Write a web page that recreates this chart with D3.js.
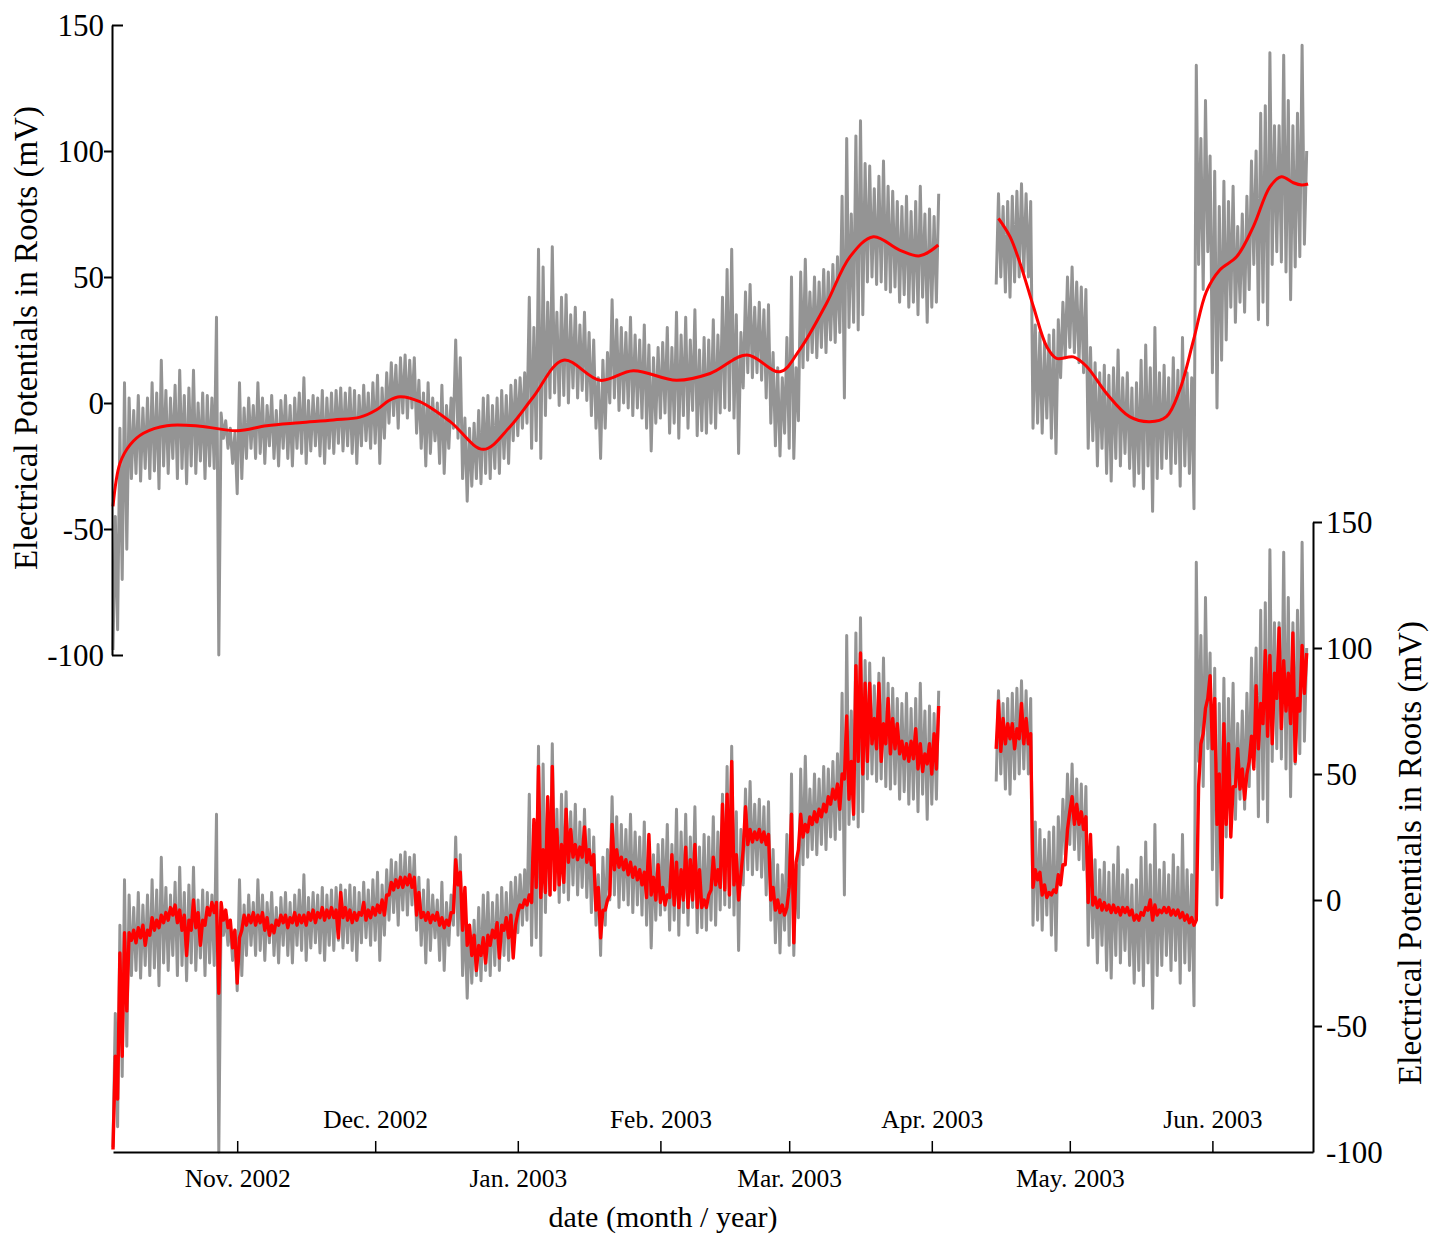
<!DOCTYPE html>
<html>
<head>
<meta charset="utf-8">
<script src="https://cdn.jsdelivr.net/npm/d3@7"></script>
<style>
  html, body { margin: 0; padding: 0; background: #fff; }
  svg text { font-family: "Liberation Serif", "Times New Roman", serif; fill: #000; }
</style>
</head>
<body>
<svg id="chart" width="1431" height="1234"></svg>
<script>
// ---------- DATA (values in mV; one [low, high] pair per day) ----------
// Day 0 = 5 Oct 2002. Recording gap between 3 Apr and 14 Apr 2003.
const startDay = Date.UTC(2002, 9, 5);

const grayOct = [[-98,-45],[-90,-10],[-70,8],[-58,2],[-30,-3],[-28,3],[-31,-2],[-26,2],[-30,8],[-27,4],[-34,17],[-25,5],[-28,2],[-22,7],[-30,13],[-26,3],[-32,6],[-25,13],[-28,0],[-23,4],[-30,3],[-25,2],[-26,34],[-100,-4],[-14,-7],[-18,-10],[-24,-12]];
const grayNov = [[-36,8],[-30,-2],[-22,2],[-18,-1],[-22,8],[-20,2],[-24,-1],[-17,3],[-22,-3],[-25,1],[-18,3],[-22,-1],[-25,2],[-18,4],[-20,10],[-24,1],[-19,3],[-17,2],[-21,5],[-24,2],[-18,4],[-20,5],[-16,6],[-19,4],[-17,6],[-20,5],[-24,3],[-17,7],[-15,4],[-18,8]];
const grayDec = [[-16,11],[-24,6],[-14,12],[-8,16],[-5,15],[-10,18],[-4,19],[-6,17],[-2,18],[-12,9],[-18,4],[-25,8],[-20,2],[-15,0],[-24,7],[-28,-1],[-18,2],[-10,25],[-14,18],[-30,-6],[-39,-10],[-33,-8],[-30,-3],[-32,2],[-28,3],[-30,-1],[-26,2],[-28,5],[-22,3],[-24,7],[-15,9]];
const grayJan = [[-13,10],[-10,12],[-8,42],[-18,30],[-15,61],[-22,54],[-5,40],[2,62],[4,36],[-1,42],[3,43],[0,35],[6,38],[2,31],[5,36],[1,28],[-5,25],[-10,10],[-22,17],[-10,20],[0,41],[2,33],[-3,30],[0,28],[-2,34],[-5,27],[-2,25],[-6,31],[-10,23],[-19,18],[-8,22]];
const grayFeb = [[-6,24],[-4,30],[-12,22],[-8,36],[-14,27],[-5,34],[-10,25],[-3,37],[-13,21],[-11,26],[-12,25],[-8,33],[-10,27],[-4,42],[-2,53],[-3,61],[-6,35],[-20,28],[6,44],[12,47],[10,38],[12,40],[9,37],[2,39],[-8,20],[-17,14],[-21,10],[-12,26]];
const grayMar = [[-18,50],[-22,14],[-7,52],[14,57],[17,44],[20,50],[18,48],[22,53],[20,52],[25,55],[24,58],[28,82],[2,105],[30,75],[32,106],[29,112],[35,95],[48,94],[50,85],[47,90],[48,96],[45,86],[44,84],[46,80],[40,78],[43,82],[38,76],[40,80],[35,86],[42,75],[32,77]];
const grayAprA = [[38,74],[40,83]];
const grayAprB = [[47,83],[50,78],[44,80],[42,82],[48,84],[50,87],[52,83],[50,80],[-10,31],[-8,28],[-12,24],[-6,27],[-14,29],[-20,33],[10,40],[18,50]];
const grayMay = [[22,54],[20,48],[16,46],[12,45],[-18,22],[-15,16],[-25,12],[-18,15],[-28,11],[-31,14],[-22,21],[-25,10],[-20,12],[-26,6],[-33,8],[-28,17],[-34,23],[-25,14],[-43,30],[-30,12],[-26,15],[-22,10],[-28,18],[-24,13],[-33,26],[-25,12],[-28,10],[-42,134],[55,105],[45,120],[60,98]];
const grayJun = [[12,92],[-2,78],[17,88],[25,80],[38,86],[32,70],[40,75],[36,82],[45,96],[55,100],[33,115],[40,118],[31,139],[55,110],[60,110],[56,138],[52,120],[41,110],[54,115],[58,142],[63,100]];

const redOct = [[-99,-62],[-79,-21],[-62,-13],[-44,-13],[-16,-12],[-17,-11],[-15,-10],[-18,-12],[-14,-7],[-12,-8],[-11,-6],[-9,-5],[-8,-3],[-6,-2],[-9,-4],[-12,-6],[-22,-8],[-12,0],[-11,-5],[-18,-8],[-10,-3],[-6,-1],[-5,-1],[-37,-1],[-8,-4],[-11,-8],[-19,-12]];
const redNov = [[-33,-15],[-12,-6],[-10,-6],[-9,-5],[-10,-6],[-9,-5],[-12,-7],[-14,-10],[-13,-8],[-10,-6],[-9,-6],[-11,-7],[-9,-5],[-10,-6],[-9,-6],[-10,-5],[-8,-4],[-9,-5],[-7,-3],[-8,-4],[-7,-3],[-7,-4],[-15,3],[-7,-3],[-8,-4],[-9,-5],[-8,-5],[-6,-1],[-8,-4],[-7,-3]];
const redDec = [[-6,-2],[-5,0],[-6,2],[2,7],[4,8],[5,9],[5,9],[6,10],[5,9],[-6,3],[-7,-5],[-8,-5],[-9,-6],[-8,-5],[-10,-7],[-11,-8],[-10,-5],[-5,16],[6,11],[-12,5],[-18,-10],[-22,-14],[-28,-18],[-22,-15],[-25,-14],[-18,-12],[-15,-9],[-23,-10],[-12,-7],[-15,-6],[-23,-10]];
const redJan = [[-5,-2],[-3,0],[-2,2],[-1,32],[5,53],[1,20],[3,41],[2,53],[4,28],[6,22],[7,36],[15,28],[17,22],[16,21],[17,29],[15,20],[14,18],[-4,5],[-15,-4],[-4,0],[2,30],[12,20],[13,17],[12,16],[10,15],[9,13],[8,12],[6,11],[1,26],[2,9],[0,14]];
const redFeb = [[-1,5],[-2,2],[1,18],[-2,15],[-3,12],[0,21],[-3,16],[0,22],[-3,12],[-3,0],[-3,2],[4,17],[6,12],[5,38],[4,42],[2,55],[6,18],[0,10],[20,37],[22,28],[23,27],[24,28],[23,27],[22,26],[0,5],[-4,0],[-5,-2],[-6,-3]];
const redMar = [[5,34],[-17,15],[20,34],[25,30],[27,33],[30,35],[31,36],[33,38],[35,41],[38,44],[40,46],[36,50],[48,73],[40,55],[34,93],[55,98],[50,86],[55,86],[62,72],[60,86],[55,70],[62,80],[58,72],[60,70],[58,63],[56,62],[55,63],[56,68],[52,62],[51,58],[54,62]];
const redAprA = [[50,66],[52,77]];
const redAprB = [[60,79],[59,72],[62,70],[64,70],[60,68],[64,78],[62,72],[62,66],[5,12],[8,11],[2,6],[1,3],[2,4],[3,10],[6,14],[14,28]];
const redMay = [[35,41],[30,38],[30,35],[28,33],[-1,26],[-2,1],[-3,0],[-4,-1],[-4,-2],[-5,-2],[-5,-3],[-6,-3],[-5,-3],[-6,-4],[-8,-6],[-8,-5],[-6,-3],[-4,0],[-8,-2],[-6,-4],[-5,-3],[-5,-3],[-6,-4],[-6,-4],[-7,-5],[-8,-6],[-9,-7],[-10,-8],[45,62],[66,76],[80,89]];
const redJun = [[60,80],[30,50],[1,70],[30,62],[25,45],[45,60],[44,52],[40,50],[55,65],[52,85],[60,78],[70,99],[65,97],[62,90],[80,108],[68,95],[75,90],[70,106],[55,80],[75,101],[82,98]];

// smoothed trend (top panel): [day, mV]
const trendA = [[0,-41],[1.5,-24],[3.7,-16.6],[6.6,-12],[11.7,-9],[18.9,-9.2],[26.9,-11],[33.4,-9],[40.6,-7.8],[47.9,-6.7],[53.7,-5.6],[57.3,-2.7],[60,1],[62.4,2.5],[66.7,0.5],[73.3,-7.4],[80.5,-18.4],[86.3,-9.4],[91.4,2.5],[97.9,17],[105.9,9],[113.1,12.8],[122.5,9],[129.8,11.7],[137.8,19],[145,12.4],[149.3,21.2],[155.1,39.5],[160.2,58],[165.3,66],[171,60.7],[175.4,58.4],[179.4,62.7]];
const trendB = [[192.5,73.3],[195,66],[197.2,55.4],[200.1,38.2],[203,22.3],[205.1,17.7],[208.8,18.3],[211.7,14.4],[216,3.8],[221,-5.4],[225.4,-7.4],[229,-5.4],[231.9,5.2],[234.9,25],[237.7,44.2],[240.6,52.8],[244.3,58.1],[247.9,70],[251.5,85.8],[254,89.8],[256.6,87.4],[258.4,86.5],[259.8,86.9]];

const yTicks = [-100, -50, 0, 50, 100, 150];
const monthNames = ["Nov.", "Dec.", "Jan.", "Feb.", "Mar.", "Apr.", "May.", "Jun."];
const yTitle = "Electrical Potentials in Roots (mV)";
const xTitle = "date (month / year)";

// ---------- CHART ----------
const DAY = 864e5;
const svg = d3.select("#chart");
const toDate = d => new Date(startDay + d * DAY);

const x = d3.scaleUtc().domain([toDate(0), toDate(260.87)]).range([113, 1313]);
const yTop = d3.scaleLinear().domain([-100, 150]).range([655, 25]);
const yBot = d3.scaleLinear().domain([-100, 150]).range([1152, 522]);

function zigzag(months, startD) {
  const pts = [];
  let d = startD;
  months.forEach(arr => arr.forEach(([lo, hi]) => {
    pts.push([d, lo]); pts.push([d + 0.5, hi]); d += 1;
  }));
  return pts;
}
const graySegs = [zigzag([grayOct, grayNov, grayDec, grayJan, grayFeb, grayMar, grayAprA], 0),
                  zigzag([grayAprB, grayMay, grayJun], 192)];
const redSegs = [zigzag([redOct, redNov, redDec, redJan, redFeb, redMar, redAprA], 0),
                 zigzag([redAprB, redMay, redJun], 192)];

const grayCol = "#949494";
function lineFor(y, curve) {
  const l = d3.line().x(p => x(toDate(p[0]))).y(p => y(p[1]));
  return curve ? l.curve(curve) : l;
}

// top panel
const gTop = svg.append("g");
graySegs.forEach(s => gTop.append("path").attr("d", lineFor(yTop)(s))
  .attr("fill", "none").attr("stroke", grayCol).attr("stroke-width", 3).attr("stroke-linejoin", "round"));
[trendA, trendB].forEach(s => gTop.append("path").attr("d", lineFor(yTop, d3.curveCatmullRom.alpha(0.5))(s))
  .attr("fill", "none").attr("stroke", "#ff0000").attr("stroke-width", 3));

// bottom panel
const gBot = svg.append("g");
graySegs.forEach(s => gBot.append("path").attr("d", lineFor(yBot)(s))
  .attr("fill", "none").attr("stroke", grayCol).attr("stroke-width", 3).attr("stroke-linejoin", "round"));
redSegs.forEach(s => gBot.append("path").attr("d", lineFor(yBot)(s))
  .attr("fill", "none").attr("stroke", "#ff0000").attr("stroke-width", 3.4).attr("stroke-linejoin", "round"));

const fmt = d => String(d);

// left axis (top panel)
const la = svg.append("g").attr("transform", "translate(112,0)")
  .call(d3.axisLeft(yTop).tickValues(yTicks).tickFormat(fmt).tickSizeInner(8).tickSizeOuter(0).tickPadding(0));
la.select(".domain").attr("stroke", "#000").attr("stroke-width", 2);
la.selectAll(".tick line").attr("stroke", "#000").attr("stroke-width", 2)
  .attr("x2", d => (d === 150 || d === -100) ? 11 : -8);
la.selectAll(".tick text").style("font-size", "31px").attr("dy", "0.34em");

// right axis (bottom panel)
const ra = svg.append("g").attr("transform", "translate(1313,0)")
  .call(d3.axisRight(yBot).tickValues(yTicks).tickFormat(fmt).tickSizeInner(9).tickSizeOuter(0).tickPadding(4));
ra.select(".domain").attr("stroke", "#000").attr("stroke-width", 2);
ra.selectAll(".tick line").attr("stroke", "#000").attr("stroke-width", 2)
  .attr("x2", d => d === -100 ? 0 : 9);
ra.selectAll(".tick text").style("font-size", "31px").attr("dy", "0.34em");

// bottom axis
const months = d3.utcMonth.range(new Date(Date.UTC(2002, 10, 1)), new Date(Date.UTC(2003, 6, 1)));
const ba = svg.append("g").attr("transform", "translate(0,1152)")
  .call(d3.axisBottom(x).tickValues(months).tickSizeInner(-11).tickSizeOuter(0)
    .tickFormat((d, i) => monthNames[i] + " " + d.getUTCFullYear()));
ba.select(".domain").attr("stroke", "#000").attr("stroke-width", 2);
ba.selectAll(".tick line").attr("stroke", "#000").attr("stroke-width", 1.5);
ba.selectAll(".tick text").style("font-size", "25.5px").attr("dy", 0)
  .attr("y", (d, i) => i % 2 === 0 ? 35 : -24);

// titles
svg.append("text").attr("transform", "translate(37,338) rotate(-90)")
  .attr("text-anchor", "middle").style("font-size", "33px").text(yTitle);
svg.append("text").attr("transform", "translate(1421,853) rotate(-90)")
  .attr("text-anchor", "middle").style("font-size", "33px").text(yTitle);
svg.append("text").attr("x", 663).attr("y", 1227)
  .attr("text-anchor", "middle").style("font-size", "30px").text(xTitle);
</script>
</body>
</html>
